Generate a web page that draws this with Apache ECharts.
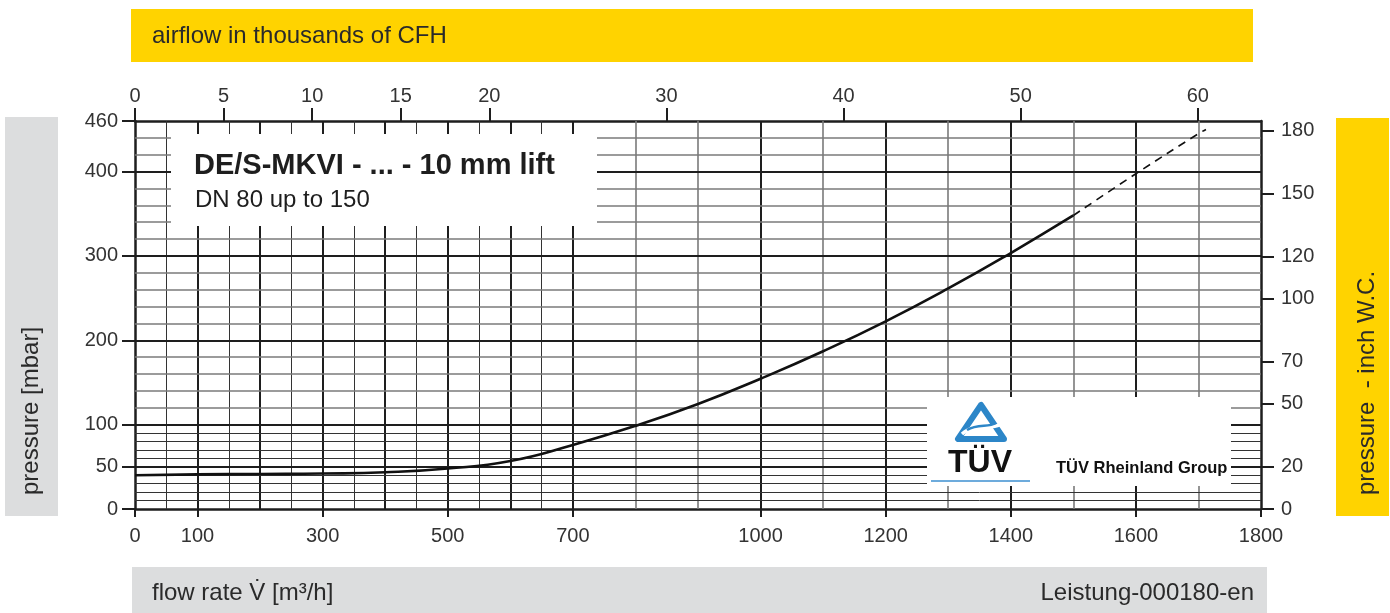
<!DOCTYPE html>
<html>
<head>
<meta charset="utf-8">
<script src="https://cdn.jsdelivr.net/npm/echarts@6/dist/echarts.min.js"></script>
<style>html,body{margin:0;padding:0;background:#fff;}#c{width:1390px;height:613px;}</style>
</head>
<body>
<div id="c"></div>
<script>
// ---- data ----
const flowSolid      = [0, 100, 200, 300, 400, 500, 600, 700, 800, 900, 1000, 1100, 1200, 1300, 1400, 1500];
const pressureSolid  = [40, 41, 41.5, 42, 43.5, 48, 57, 76, 98.5, 124.5, 154.5, 187, 222.5, 261.5, 303.5, 348];
const flowDashed     = [1500, 1600, 1700, 1712];
const pressureDashed = [348, 397.5, 445, 450];

const bottomTicks = [0, 100, 300, 500, 700, 1000, 1200, 1400, 1600, 1800];
const topTicks    = [0, 5, 10, 15, 20, 30, 40, 50, 60];
const leftTicks   = [0, 50, 100, 200, 300, 400, 460];
const rightTicks  = [0, 20, 50, 70, 100, 120, 150, 180];

const vThick = [100, 200, 300, 400, 500, 600, 700, 1000, 1200, 1400, 1600];
const vThin  = [50, 150, 250, 350, 450, 550, 650];
const vGray  = [800, 900, 1100, 1300, 1500, 1700];
const hThick = [50, 100, 200, 300, 400];
const hThin  = [10, 20, 30, 40, 60, 70, 80, 90];
const hGray  = [120, 140, 160, 180, 220, 240, 260, 280, 320, 340, 360, 380, 420, 440];

const FLOW_MAX = 1800, P_MAX = 460;
const CFH_PER_M3H = 35.3147 / 1000;   // thousands of CFH per m3/h
const MBAR_PER_INWC = 2.49089;

// ---- chart ----
const FONT = "'Liberation Sans', Arial, Helvetica, sans-serif";
const TXT = '#333333';
const chart = echarts.init(document.getElementById('c'), null, {renderer: 'canvas'});

const solidData = flowSolid.map((f, i) => [f, pressureSolid[i]]);
const dashedData = flowDashed.map((f, i) => [f, pressureDashed[i]]);

const thickStyle = {color: '#1e1e1e', width: 2, type: 'solid'};
const thinStyle  = {color: '#333333', width: 1, type: 'solid'};
const grayStyle  = {color: '#7a7a7a', width: 1.6, type: 'solid'};
const gridMarks = []
  .concat(vThin.map(v => ({xAxis: v, lineStyle: thinStyle})))
  .concat(vGray.map(v => ({xAxis: v, lineStyle: grayStyle})))
  .concat(vThick.map(v => ({xAxis: v, lineStyle: thickStyle})))
  .concat(hThin.map(v => ({yAxis: v, lineStyle: thinStyle})))
  .concat(hGray.map(v => ({yAxis: v, lineStyle: grayStyle})))
  .concat(hThick.map(v => ({yAxis: v, lineStyle: thickStyle})));

const axisLineStyle = {color: '#1e1e1e', width: 2.5};
const plain = v => String(Math.round(v));
const labelBase = {color: TXT, fontSize: 20, fontFamily: FONT, formatter: plain};

const option = {
  animation: false,
  backgroundColor: '#ffffff',
  grid: {left: 135, right: 129, top: 121, bottom: 104, containLabel: false},
  xAxis: [
    {
      type: 'value', position: 'bottom', min: 0, max: FLOW_MAX,
      axisLine: {show: true, onZero: false, lineStyle: axisLineStyle},
      axisTick: {show: true, length: 8, customValues: bottomTicks, lineStyle: {color: '#1e1e1e', width: 2}},
      axisLabel: Object.assign({margin: 17, customValues: bottomTicks}, labelBase),
      splitLine: {show: false}
    },
    {
      type: 'value', position: 'top', min: 0, max: FLOW_MAX * CFH_PER_M3H,
      axisLine: {show: true, onZero: false, lineStyle: axisLineStyle},
      axisTick: {show: true, length: 13, customValues: topTicks, lineStyle: {color: '#1e1e1e', width: 2}},
      axisLabel: Object.assign({margin: 15, customValues: topTicks}, labelBase),
      splitLine: {show: false}
    }
  ],
  yAxis: [
    {
      type: 'value', position: 'left', min: 0, max: P_MAX,
      axisLine: {show: true, onZero: false, lineStyle: axisLineStyle},
      axisTick: {show: true, length: 13, customValues: leftTicks, lineStyle: {color: '#1e1e1e', width: 2}},
      axisLabel: Object.assign({margin: 17, customValues: leftTicks}, labelBase),
      splitLine: {show: false}
    },
    {
      type: 'value', position: 'right', min: 0, max: P_MAX / MBAR_PER_INWC,
      axisLine: {show: true, onZero: false, lineStyle: axisLineStyle},
      axisTick: {show: true, length: 13, customValues: rightTicks, lineStyle: {color: '#1e1e1e', width: 2}},
      axisLabel: Object.assign({margin: 20, customValues: rightTicks}, labelBase),
      splitLine: {show: false}
    }
  ],
  series: [
    {
      type: 'line', xAxisIndex: 0, yAxisIndex: 0, data: [], silent: true, z: 1,
      markLine: {silent: true, symbol: ['none', 'none'], label: {show: false}, animation: false, data: gridMarks}
    },
    {
      type: 'line', xAxisIndex: 0, yAxisIndex: 0, data: solidData, smooth: 0.5,
      showSymbol: false, silent: true, z: 5,
      lineStyle: {color: '#111111', width: 2.6}
    },
    {
      type: 'line', xAxisIndex: 0, yAxisIndex: 0, data: dashedData, smooth: 0.4,
      showSymbol: false, silent: true, z: 5,
      lineStyle: {color: '#111111', width: 1.6, type: [8, 6]}
    }
  ],
  graphic: [
    // bands
    {type: 'rect', z: 100, shape: {x: 131, y: 9, width: 1122, height: 53}, style: {fill: '#FFD300'}},
    {type: 'text', z: 101, x: 152, y: 36, style: {text: 'airflow in thousands of CFH', fill: '#2a2a2a', font: '24px ' + FONT, verticalAlign: 'middle'}},
    {type: 'rect', z: 100, shape: {x: 132, y: 567, width: 1135, height: 46}, style: {fill: '#DCDDDE'}},
    {type: 'text', z: 101, x: 152, y: 593, style: {text: 'flow rate V\u0307 [m\u00b3/h]', fill: '#2a2a2a', font: '24px ' + FONT, verticalAlign: 'middle'}},
    {type: 'text', z: 101, x: 1254, y: 593, style: {text: 'Leistung-000180-en', fill: '#2a2a2a', font: '24px ' + FONT, align: 'right', verticalAlign: 'middle'}},
    {type: 'rect', z: 100, shape: {x: 5, y: 117, width: 53, height: 399}, style: {fill: '#DCDDDE'}},
    {type: 'text', z: 101, x: 31, y: 495, rotation: Math.PI / 2, style: {text: 'pressure [mbar]', fill: '#2a2a2a', font: '24px ' + FONT, align: 'left', verticalAlign: 'middle'}},
    {type: 'rect', z: 100, shape: {x: 1336, y: 118, width: 53, height: 398}, style: {fill: '#FFD300'}},
    {type: 'text', z: 101, x: 1367, y: 495, rotation: Math.PI / 2, style: {text: 'pressure  - inch W.C.', fill: '#2a2a2a', font: '24px ' + FONT, align: 'left', verticalAlign: 'middle'}},
    // title box
    {type: 'rect', z: 100, shape: {x: 171, y: 134, width: 426, height: 92}, style: {fill: '#ffffff'}},
    {type: 'text', z: 101, x: 194, y: 166, style: {text: 'DE/S-MKVI - ... - 10 mm lift', fill: '#1e1e1e', font: 'bold 29px ' + FONT, verticalAlign: 'middle'}},
    {type: 'text', z: 101, x: 195, y: 200, style: {text: 'DN 80 up to 150', fill: '#1e1e1e', font: '24px ' + FONT, verticalAlign: 'middle'}},
    // TUV box
    {type: 'rect', z: 100, shape: {x: 927, y: 397, width: 304, height: 89}, style: {fill: '#ffffff'}},
    {type: 'polygon', z: 101, shape: {points: [[981, 405], [958, 439], [1004, 439]]}, style: {fill: 'none', stroke: '#2C86C8', lineWidth: 6, lineJoin: 'round'}},
    {type: 'bezierCurve', z: 102, shape: {x1: 962, y1: 434, cpx1: 975, cpy1: 422, cpx2: 990, cpy2: 431, x2: 1001, y2: 424}, style: {stroke: '#ffffff', lineWidth: 3.5, fill: 'none'}},
    {type: 'bezierCurve', z: 102, shape: {x1: 967, y1: 430, cpx1: 978, cpy1: 423, cpx2: 988, cpy2: 428, x2: 996, y2: 423}, style: {stroke: '#2C86C8', lineWidth: 2.5, fill: 'none'}},
    {type: 'text', z: 101, x: 948, y: 463, style: {text: 'T\u00dcV', fill: '#111111', font: 'bold 32px ' + FONT, verticalAlign: 'middle'}},
    {type: 'line', z: 101, shape: {x1: 931, y1: 481, x2: 1030, y2: 481}, style: {stroke: '#3D8FD0', lineWidth: 1.5}},
    {type: 'text', z: 101, x: 1056, y: 468, style: {text: 'T\u00dcV Rheinland Group', fill: '#111111', font: 'bold 16.5px ' + FONT, verticalAlign: 'middle'}}
  ]
};
chart.setOption(option);
</script>
</body>
</html>
